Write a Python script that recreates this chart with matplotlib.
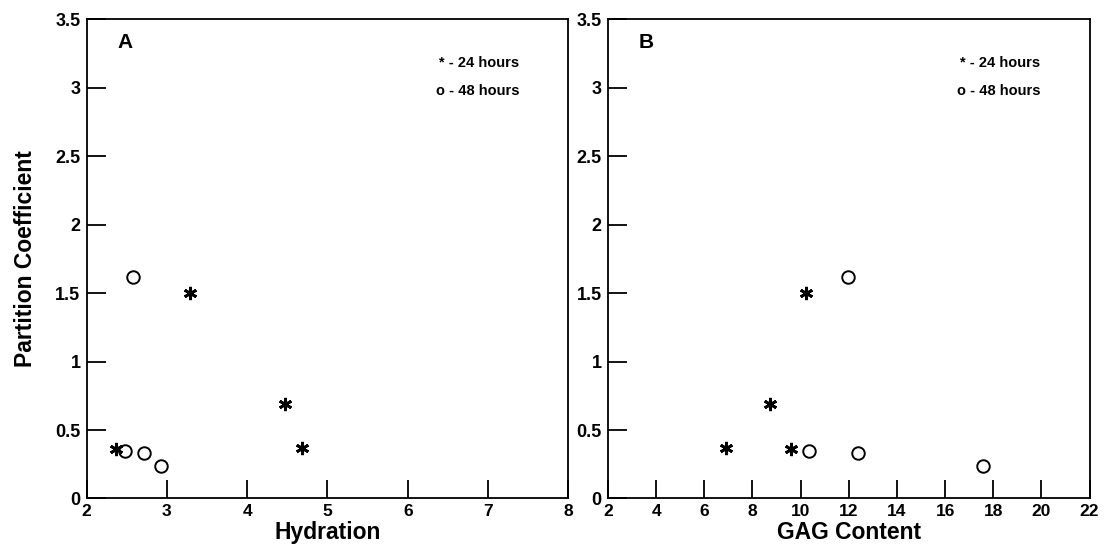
import matplotlib
matplotlib.use("Agg")
import matplotlib.pyplot as plt

plt.rcParams['font.family'] = ['Liberation Sans', 'DejaVu Sans']
plt.rcParams['font.weight'] = 'bold'

# Partition coefficient measurements
pc_24h = [1.50, 0.69, 0.37, 0.36]
pc_48h = [1.62, 0.35, 0.33, 0.24]

# Hydration for each sample
hydration_24h = [3.29, 4.47, 4.68, 2.36]
hydration_48h = [2.58, 2.48, 2.72, 2.92]

# GAG content for each sample
gag_24h = [10.24, 8.74, 6.90, 9.62]
gag_48h = [11.97, 10.36, 12.38, 17.56]

y_ticks = [0, 0.5, 1, 1.5, 2, 2.5, 3, 3.5]
y_tick_labels = ['0', '0.5', '1', '1.5', '2', '2.5', '3', '3.5']
hydration_ticks = [2, 3, 4, 5, 6, 7, 8]
gag_ticks = [2, 4, 6, 8, 10, 12, 14, 16, 18, 20, 22]

fig = plt.figure(figsize=(11.04, 5.46), dpi=100)
ax_a = fig.add_axes([0.0785, 0.087, 0.4362, 0.878])
ax_b = fig.add_axes([0.5507, 0.087, 0.4362, 0.878])

star = (6, 2, 0)


def style_panel(ax, xticks, xlabel, letter, show_ylabel):
    ax.set_xlim(xticks[0], xticks[-1])
    ax.set_ylim(0, 3.5)
    ax.set_xticks(xticks)
    ax.set_xticklabels([str(t) for t in xticks], fontsize=12.5, fontweight='bold')
    ax.set_yticks(y_ticks)
    ax.set_yticklabels(y_tick_labels, fontsize=13, fontweight='bold')
    ax.tick_params(axis='x', direction='in', length=13, width=1.3, pad=4.2,
                   top=False)
    ax.tick_params(axis='y', direction='in', length=14, width=1.3, pad=4.5,
                   right=False)
    for sp in ax.spines.values():
        sp.set_linewidth(1.3)
    ax.set_xlabel(xlabel, fontsize=16.5, fontweight='bold', va='baseline')
    ax.xaxis.set_label_coords(0.5, (498.5 - 539.0) / 479.3)
    if show_ylabel:
        ax.set_ylabel('Partition Coefficient', fontsize=16.5,
                      fontweight='bold')
        ax.yaxis.set_label_coords(-0.103, 0.5)
    ax.text(0.064, 0.952, letter, transform=ax.transAxes, fontsize=15,
            fontweight='bold', ha='left', va='center')
    ax.text(0.898, 0.908, '* - 24 hours', transform=ax.transAxes, fontsize=10.5,
            fontweight='bold', ha='right', va='center')
    ax.text(0.898, 0.849, 'o - 48 hours', transform=ax.transAxes, fontsize=10.5,
            fontweight='bold', ha='right', va='center')


# Panel A: partition coefficient vs hydration
ax_a.plot(hydration_24h, pc_24h, linestyle='none', marker=star,
          markersize=9.5, markeredgewidth=2.0, color='black')
ax_a.plot(hydration_48h, pc_48h, linestyle='none', marker='o',
          markersize=9, markeredgewidth=1.4, markerfacecolor='none',
          markeredgecolor='black')
style_panel(ax_a, hydration_ticks, 'Hydration', 'A', True)

# Panel B: partition coefficient vs GAG content
ax_b.plot(gag_24h, pc_24h, linestyle='none', marker=star,
          markersize=9.5, markeredgewidth=2.0, color='black')
ax_b.plot(gag_48h, pc_48h, linestyle='none', marker='o',
          markersize=9, markeredgewidth=1.4, markerfacecolor='none',
          markeredgecolor='black')
style_panel(ax_b, gag_ticks, 'GAG Content', 'B', False)

fig.savefig('out.png', dpi=100)
